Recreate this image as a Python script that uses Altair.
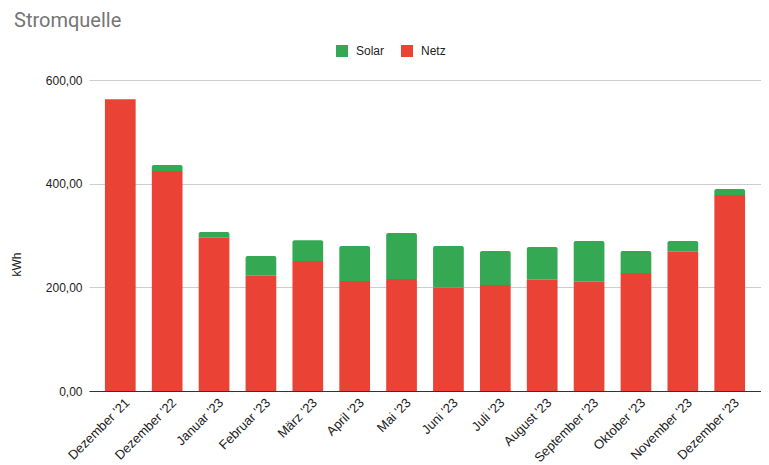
import altair as alt
import pandas as pd

months = ["Dezember '21", "Dezember '22", "Januar '23", "Februar '23", "März '23", "April '23",
          "Mai '23", "Juni '23", "Juli '23", "August '23", "September '23", "Oktober '23",
          "November '23", "Dezember '23"]
netz = [563, 424.5, 295.8, 222.5, 250.8, 212.2, 216.1, 199.3, 204.5, 214.7, 210.9, 227.7, 268.8, 378.2]
solar = [0, 11.5, 11.0, 38.0, 40.2, 67.6, 88.7, 80.5, 65.5, 63.1, 78.5, 42.3, 20.6, 11.5]

df = pd.DataFrame({"Monat": months, "Netz": netz, "Solar": solar})
df["Gesamt"] = df["Netz"] + df["Solar"]

color_scale = alt.Scale(domain=["Solar", "Netz"], range=["#34A853", "#EA4335"])
xenc = alt.X("Monat:N", sort=months, title=None,
             scale=alt.Scale(paddingInner=0.345, paddingOuter=0.34),
             axis=alt.Axis(labelAngle=-45, labelAlign="right", labelBaseline="top",
                           labelFont="Liberation Sans", labelFontSize=13, labelColor="#222222",
                           labelPadding=5, labelOffset=3, ticks=False,
                           domainColor="#333333", grid=False))
yscale = alt.Scale(domain=[0, 600], nice=False)
yaxis = alt.Axis(values=[0, 200, 400, 600],
                 labelExpr="replace(format(datum.value, '.2f'), '.', ',')",
                 labelFont="Liberation Sans", labelFontSize=12, labelColor="#222222",
                 labelPadding=7, ticks=False, domain=False, gridColor="#cccccc",
                 title="kWh", titleFont="Liberation Sans", titleFontSize=12,
                 titleFontWeight="normal", titleColor="#222222",
                 titleX=-66, titleY=184, titleAngle=-90)

base = alt.Chart(df)

netz_bars = base.mark_bar().transform_calculate(Quelle="'Netz'").encode(
    x=xenc,
    y=alt.Y("Netz:Q", scale=yscale, axis=yaxis),
    color=alt.Color("Quelle:N", scale=color_scale,
                    legend=alt.Legend(title=None, orient="none", direction="horizontal",
                                      legendX=247, legendY=-35, symbolType="square",
                                      symbolSize=144, symbolStrokeWidth=0,
                                      labelFont="Liberation Sans", labelFontSize=12,
                                      labelColor="#222222", columnPadding=16, labelOffset=8)),
)

solar_bars = base.mark_bar(cornerRadiusTopLeft=2, cornerRadiusTopRight=2).transform_calculate(
    Quelle="'Solar'").encode(
    x=xenc,
    y=alt.Y("Gesamt:Q", scale=yscale),
    y2="Netz:Q",
    color=alt.Color("Quelle:N", scale=color_scale),
)

chart = alt.layer(netz_bars, solar_bars).properties(
    width=753, height=311,
    autosize=alt.AutoSizeParams(type="fit-x", contains="padding"),
    padding={"left": 2, "top": 3, "right": 0, "bottom": 0},
    title=alt.TitleParams("Stromquelle", anchor="start", frame="bounds",
                          font="Roboto", fontSize=20, fontWeight="normal",
                          color="#757575", offset=43, dx=4),
).configure_view(stroke=None)

chart.save("out.html", embed_options={"renderer": "svg", "actions": False})
